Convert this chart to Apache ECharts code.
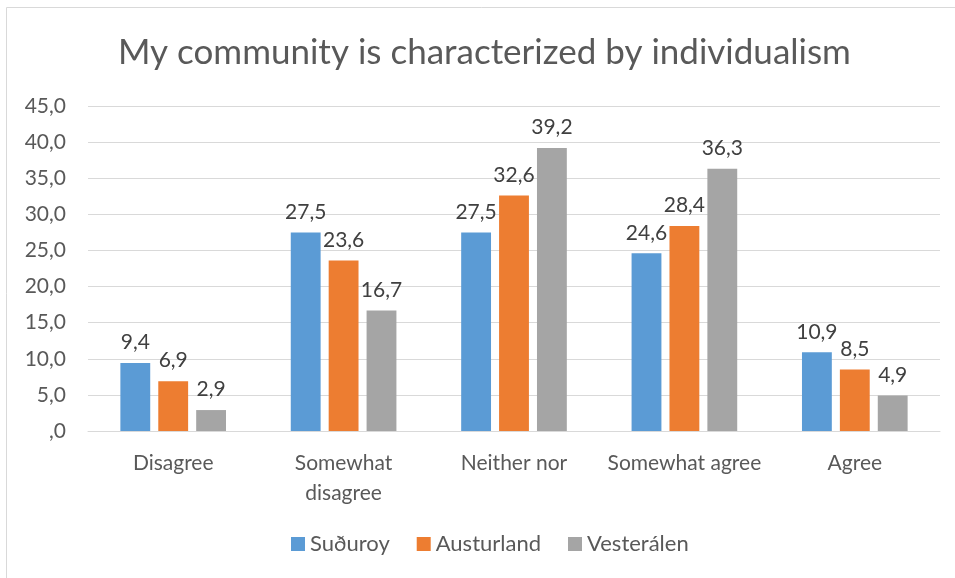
<!DOCTYPE html>
<html>
<head>
<meta charset="utf-8">
<script src="https://cdn.jsdelivr.net/npm/echarts@6/dist/echarts.min.js"></script>
<style>
  html, body { margin: 0; padding: 0; background: #fff; }
  #chart { width: 955px; height: 578px; }
</style>
</head>
<body>
<div id="chart"></div>
<script>
// Response categories and regional percentages
const categories = ['Disagree', 'Somewhat\ndisagree', 'Neither nor', 'Somewhat agree', 'Agree'];
const suduroy = [9.4, 27.5, 27.5, 24.6, 10.9];
const austurland = [6.9, 23.6, 32.6, 28.4, 8.5];
const vesteralen = [2.9, 16.7, 39.2, 36.3, 4.9];
const seriesNames = ['Suðuroy', 'Austurland', 'Vesterálen'];
const colors = ['#5b9bd5', '#ed7d31', '#a5a5a5'];

const FONT = 'Lato';
const fmt = v => {
  const s = Number(v).toFixed(1).replace('.', ',');
  return s.startsWith('0,') ? s.slice(1) : s;
};

const chart = echarts.init(document.getElementById('chart'), null, { renderer: 'canvas' });

function barSeries(name, data, color) {
  return {
    name: name,
    type: 'bar',
    data: data,
    barGap: '27%',
    barCategoryGap: '38%',
    itemStyle: { color: color },
    label: {
      show: true,
      position: 'top',
      distance: 10,
      formatter: p => fmt(p.value),
      color: '#404040',
      fontFamily: FONT,
      fontSize: 21
    }
  };
}

chart.setOption({
  animation: false,
  color: colors,
  graphic: [{
    type: 'rect',
    shape: { x: 6.5, y: 7.5, width: 1200, height: 1200 },
    style: { fill: 'none', stroke: '#d9d9d9', lineWidth: 1 },
    silent: true
  }],
  title: {
    text: 'My community is characterized by individualism',
    left: 113,
    top: 30,
    textStyle: {
      fontFamily: FONT,
      fontWeight: 'normal',
      fontSize: 35,
      color: '#595959'
    }
  },
  grid: { left: 88, right: 15, top: 106, bottom: 147, containLabel: false },
  legend: {
    bottom: 18,
    left: 286,
    itemWidth: 14,
    itemHeight: 14,
    itemGap: 27,
    icon: 'rect',
    textStyle: { fontFamily: FONT, fontSize: 22, color: '#595959' },
    data: seriesNames
  },
  xAxis: {
    type: 'category',
    data: categories,
    axisLine: { lineStyle: { color: '#d9d9d9' } },
    axisTick: { show: false },
    axisLabel: {
      interval: 0,
      color: '#595959',
      fontFamily: FONT,
      fontSize: 21,
      margin: 17,
      lineHeight: 30
    }
  },
  yAxis: {
    type: 'value',
    min: 0,
    max: 45,
    interval: 5,
    axisLine: { show: false },
    axisTick: { show: false },
    splitLine: { lineStyle: { color: '#d9d9d9' } },
    axisLabel: {
      color: '#595959',
      fontFamily: FONT,
      fontSize: 21,
      margin: 22,
      formatter: v => fmt(v)
    }
  },
  series: [
    barSeries(seriesNames[0], suduroy, colors[0]),
    barSeries(seriesNames[1], austurland, colors[1]),
    barSeries(seriesNames[2], vesteralen, colors[2])
  ]
});
</script>
</body>
</html>
